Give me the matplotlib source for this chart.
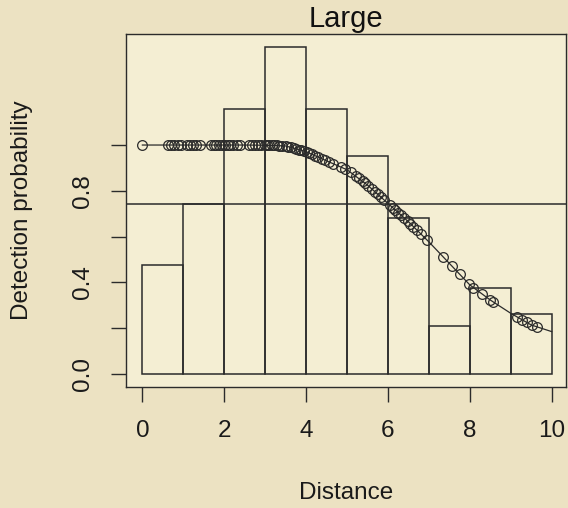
import numpy as np
import matplotlib
matplotlib.use("Agg")
import matplotlib.pyplot as plt

plt.rcParams['font.family'] = ['Liberation Sans', 'DejaVu Sans']

# histogram of distances (bin edges 0..10, width 1), scaled heights
bin_edges = [0, 1, 2, 3, 4, 5, 6, 7, 8, 9, 10]
bar_heights = [0.476, 0.742, 1.159, 1.427, 1.159, 0.952, 0.683, 0.211, 0.374, 0.261]
mean_level = 0.742

# fitted detection curve
curve_x = [0, 0.5, 1, 1.5, 2, 2.5, 3, 3.5, 4, 4.5, 5, 5.5, 6, 6.5, 7, 7.5, 8, 8.5, 9, 9.5, 10]
curve_y = [1.0, 1.0, 1.0, 1.0, 1.0, 1.0, 0.999, 0.996, 0.971, 0.931, 0.892, 0.825, 0.745,
           0.665, 0.577, 0.483, 0.389, 0.323, 0.265, 0.214, 0.185]

# observed distances and their detection probability
obs_dist = [0.0,
            0.62, 0.70, 0.78, 0.86, 0.94, 1.08, 1.16, 1.24, 1.32, 1.42,
            1.68, 1.75, 1.80, 1.88, 1.95, 2.02, 2.08, 2.15, 2.22, 2.30, 2.38,
            2.60, 2.67, 2.74, 2.82, 2.90,
            3.00, 3.05, 3.10, 3.16, 3.22, 3.28, 3.35, 3.42, 3.50, 3.57, 3.63, 3.70,
            3.76, 3.82, 3.88, 3.95, 4.02, 4.08, 4.15, 4.22, 4.30, 4.38, 4.45, 4.55, 4.65,
            4.85, 4.95, 5.10,
            5.22, 5.30, 5.38, 5.45, 5.52, 5.60, 5.68, 5.75, 5.82, 5.90,
            6.05, 6.12, 6.18, 6.25, 6.32, 6.40, 6.48, 6.55, 6.62, 6.70, 6.80, 6.95,
            7.35, 7.56, 7.75, 7.99, 8.09, 8.29, 8.50, 8.56,
            9.15, 9.27, 9.39, 9.52, 9.65]
obs_prob = [1.0,
            1.0, 1.0, 1.0, 1.0, 1.0, 1.0, 1.0, 1.0, 1.0, 1.0,
            1.0, 1.0, 1.0, 1.0, 1.0, 1.0, 1.0, 1.0, 1.0, 1.0, 1.0,
            1.0, 1.0, 1.0, 1.0, 0.999,
            0.999, 0.999, 0.999, 0.999, 0.998, 0.998, 0.997, 0.997, 0.996, 0.993, 0.990, 0.987,
            0.984, 0.980, 0.977, 0.974, 0.970, 0.965, 0.959, 0.953, 0.947, 0.941, 0.935, 0.927, 0.919,
            0.904, 0.896, 0.880,
            0.866, 0.855, 0.843, 0.832, 0.822, 0.809, 0.796, 0.785, 0.774, 0.761,
            0.737, 0.726, 0.716, 0.705, 0.694, 0.681, 0.668, 0.656, 0.644, 0.630, 0.612, 0.586,
            0.511, 0.472, 0.436, 0.391, 0.377, 0.350, 0.323, 0.316,
            0.250, 0.236, 0.225, 0.213, 0.205]

x_ticks = [0, 2, 4, 6, 8, 10]
y_ticks = [0.0, 0.2, 0.4, 0.6, 0.8, 1.0]
y_labels = ["0.0", "", "0.4", "", "0.8", ""]

ink = "#2b2b2b"
W, H = 568, 508
fig = plt.figure(figsize=(W / 100, H / 100), dpi=100, facecolor="#ece2c2")
ax = fig.add_axes([126 / W, 121 / H, 440 / W, 353 / H])
ax.set_facecolor("#f4eed3")

widths = np.diff(bin_edges)
ax.bar(bin_edges[:-1], bar_heights, width=widths, align="edge",
       fill=False, edgecolor=ink, linewidth=1.1)
ax.axhline(mean_level, color=ink, linewidth=1.1)
ax.plot(curve_x, curve_y, color=ink, linewidth=0.9)
ax.plot(obs_dist, obs_prob, linestyle="none", marker="o", markersize=7,
        markerfacecolor="none", markeredgecolor=ink, markeredgewidth=0.9)

ax.set_xlim(-0.4, 10.35)
ax.set_ylim(-0.057, 1.485)
ax.set_xticks(x_ticks)
ax.set_xticklabels([str(t) for t in x_ticks])
ax.set_yticks(y_ticks)
ax.set_yticklabels(y_labels, rotation=90, va="center")
ax.tick_params(axis="both", length=10.8, width=1, color=ink, labelsize=17.5,
               labelcolor="#1a1a1a")
ax.tick_params(axis="x", pad=13)
ax.tick_params(axis="y", pad=12)
for s in ax.spines.values():
    s.set_color(ink)
    s.set_linewidth(1.0)

fig.text(346 / W, 1 - 27 / H, "Large", ha="center", va="baseline", fontsize=21, color="#111111")
fig.text(346 / W, 1 - 493 / H, "Distance", ha="center", va="center", fontsize=17.5, color="#1a1a1a")
fig.text(22 / W, 1 - 210 / H, "Detection probability", rotation=90, ha="center", va="center",
         fontsize=17.5, color="#1a1a1a")

fig.savefig("out.png", dpi=100, facecolor=fig.get_facecolor())
